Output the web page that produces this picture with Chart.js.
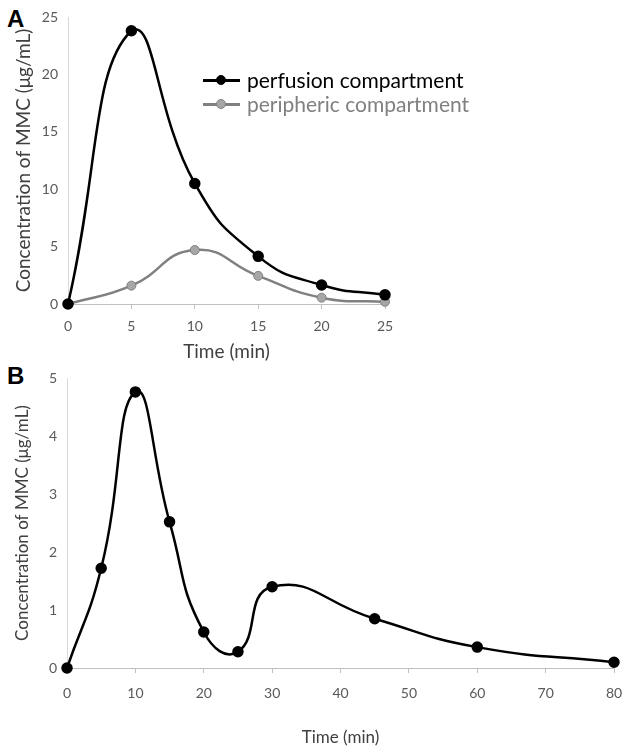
<!DOCTYPE html>
<html lang="en">
<head>
<meta charset="UTF-8">
<title>MMC concentration</title>
<script src="https://cdn.jsdelivr.net/npm/chart.js"></script>
<style>
    body { margin: 0; background: #fff; font-family: Lato, sans-serif; overflow: hidden; }
    .panel { position: absolute; }
    .tag { position: absolute; font: bold 24px "Liberation Sans", Arial, sans-serif; color: #000; }
    .legend { position: absolute; left: 203px; top: 68px; font-size: 21px; line-height: 24px; }
    .legend div { display: flex; align-items: center; }
    .sym { position: relative; width: 37px; height: 24px; margin-right: 7px; flex: none; }
    .sym::before { content: ""; position: absolute; left: 0; right: 0; top: 11px; height: 2.5px; background: var(--c); }
    .sym::after { content: ""; position: absolute; left: 13px; top: 7px; width: 10px; height: 10px; border-radius: 50%; background: var(--f); box-sizing: border-box; border: 1px solid var(--c); }
</style>
</head>
<body>
<div class="tag" style="left:7px;top:5px">A</div>
<div class="tag" style="left:7px;top:362px">B</div>
<div class="panel" style="left:0;top:0;width:400px;height:365px"><canvas id="chartA"></canvas></div>
<div class="panel" style="left:0;top:360px;width:623px;height:390px"><canvas id="chartB"></canvas></div>
<div class="legend">
    <div><span class="sym" style="--c:#000;--f:#000"></span><span style="color:#000">perfusion compartment</span></div>
    <div><span class="sym" style="--c:#808080;--f:#a6a6a6"></span><span style="color:#808080">peripheric compartment</span></div>
</div>
<script>
// panel A
const timeA = [0, 5, 10, 15, 20, 25];
const perfusion = [0, 23.8, 10.5, 4.15, 1.65, 0.8];
const peripheric = [0, 1.6, 4.7, 2.45, 0.55, 0.2];
// panel B
const timeB = [0, 5, 10, 15, 20, 25, 30, 45, 60, 80];
const concB = [0, 1.72, 4.76, 2.52, 0.62, 0.28, 1.4, 0.85, 0.36, 0.1];

const yTitle = 'Concentration of MMC (\u03bcg/mL)';
const tickFont = { family: 'Lato', size: 14 };

function pts(xs, ys) {
    return xs.map((x, i) => ({ x: x, y: ys[i] }));
}

function axes(xMax, xStep, yMax, yStep, yWidth, xHeight, titleSize, tickPad) {
    const titleFont = { family: 'Lato', size: titleSize };
    return {
        x: {
            type: 'linear', min: 0, max: xMax,
            ticks: { stepSize: xStep, color: '#595959', font: tickFont, padding: tickPad },
            grid: { drawOnChartArea: false, drawTicks: true, tickLength: 5, color: '#bfbfbf' },
            border: { color: '#bfbfbf', width: 1 },
            title: { display: true, text: 'Time (min)', color: '#404040', font: titleFont, padding: { top: 4, bottom: 2 } },
            afterFit: s => { s.height = xHeight; s.paddingLeft = 0; s.paddingRight = 0; }
        },
        y: {
            min: 0, max: yMax,
            ticks: { stepSize: yStep, color: '#595959', font: tickFont, padding: 10 },
            grid: { drawOnChartArea: false, drawTicks: false, color: '#d9d9d9' },
            border: { color: '#d9d9d9', width: 1 },
            title: { display: true, text: yTitle, color: '#404040', font: titleFont, padding: { top: 12, bottom: 0 } },
            afterFit: s => { s.width = yWidth; s.paddingTop = 0; s.paddingBottom = 0; }
        }
    };
}

const common = {
    responsive: true,
    maintainAspectRatio: false,
    animation: false,
    plugins: { legend: { display: false }, tooltip: { enabled: false } }
};

new Chart(document.getElementById('chartA'), {
    type: 'scatter',
    data: {
        datasets: [{
            label: 'perfusion compartment',
            data: pts(timeA, perfusion),
            showLine: true, tension: 0.5, clip: false,
            borderColor: '#000', borderWidth: 2.5,
            pointRadius: 4.5, pointBackgroundColor: '#000', pointBorderColor: '#000'
        }, {
            label: 'peripheric compartment',
            data: pts(timeA, peripheric),
            showLine: true, tension: 0.5, clip: false,
            borderColor: '#808080', borderWidth: 2.5,
            pointRadius: 4.5, pointBackgroundColor: '#a6a6a6', pointBorderColor: '#808080', pointBorderWidth: 1
        }]
    },
    options: Object.assign({}, common, {
        layout: { padding: { top: 17, right: 15, left: 0, bottom: 0 } },
        scales: axes(25, 5, 25, 5, 68, 61, 19, 9)
    })
});

new Chart(document.getElementById('chartB'), {
    type: 'scatter',
    data: {
        datasets: [{
            label: 'MMC',
            data: pts(timeB, concB),
            showLine: true, tension: 0.5, clip: false,
            borderColor: '#000', borderWidth: 2.5,
            pointRadius: 4.5, pointBackgroundColor: '#000', pointBorderColor: '#000'
        }]
    },
    options: Object.assign({}, common, {
        layout: { padding: { top: 18, right: 9, left: 0, bottom: 0 } },
        scales: axes(80, 10, 5, 1, 67, 82, 17, 12)
    })
});
</script>
</body>
</html>
